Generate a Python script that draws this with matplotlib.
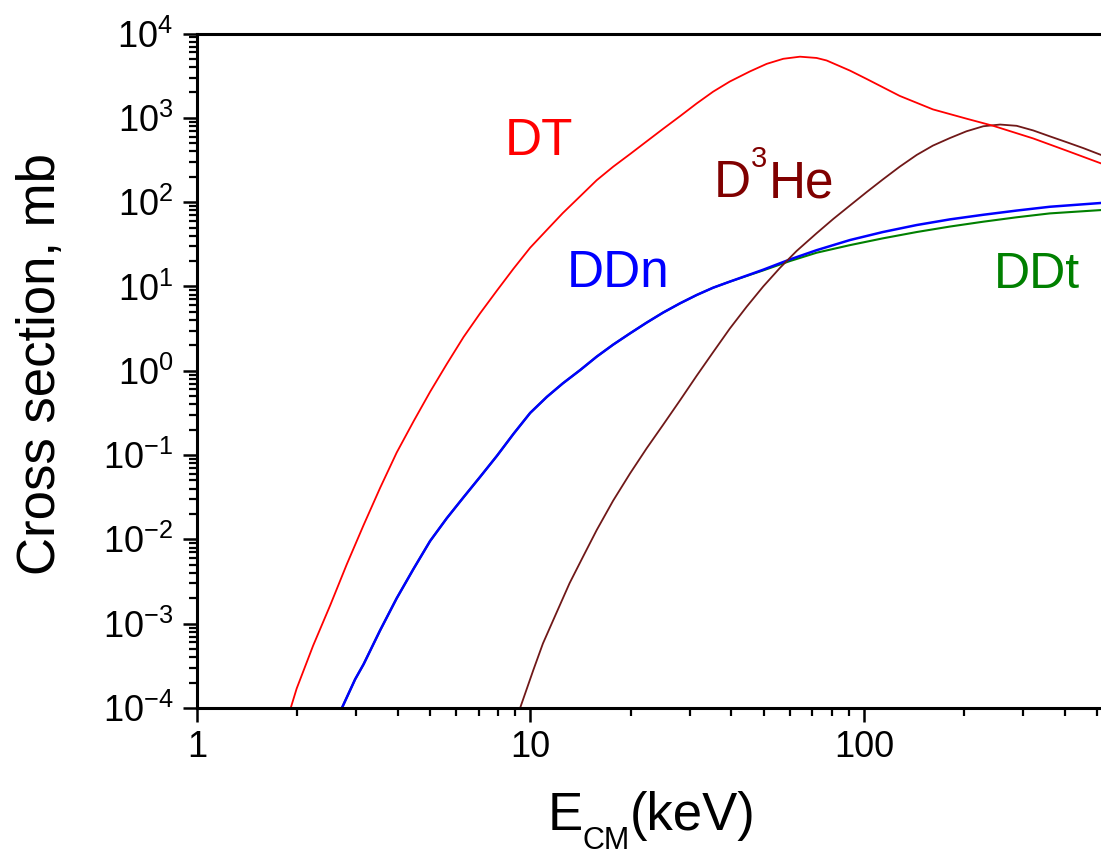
import numpy as np
import matplotlib
matplotlib.use("Agg")
import matplotlib.pyplot as plt
from matplotlib.ticker import FixedLocator, FuncFormatter, LogLocator, NullFormatter

plt.rcParams["font.family"] = ["Liberation Sans", "DejaVu Sans"]
plt.rcParams["mathtext.fontset"] = "custom"
plt.rcParams["mathtext.rm"] = "Liberation Sans"
plt.rcParams["mathtext.it"] = "Liberation Sans:italic"
plt.rcParams["mathtext.bf"] = "Liberation Sans:bold"

# Fusion cross sections vs centre-of-mass energy (keV, mb)
dt_E = [1.91, 1.99, 2.23, 2.51, 2.81, 3.16, 3.54, 3.97, 4.46, 5.00, 5.61,
        6.30, 7.06, 7.93, 8.89, 9.98, 11.2, 12.5, 14.1, 15.8, 17.7, 19.9,
        22.3, 25.0, 28.1, 31.5, 35.3, 39.6, 45.5, 51.1, 57.3, 64.3, 72.1,
        77.3, 90.8, 102, 128, 161, 203, 244, 322, 406, 514]
dt_sigma = [1.0e-4, 1.70e-4, 5.50e-4, 1.66e-3, 5.01e-3, 1.48e-2, 4.07e-2,
            0.107, 0.251, 0.562, 1.20, 2.51, 4.79, 8.91, 16.2, 28.8, 46.8,
            74.1, 117.5, 182, 263, 372, 525, 741, 1047, 1479, 2042, 2692,
            3548, 4365, 5012, 5309, 5129, 4786, 3631, 2884, 1820, 1259, 977,
            804, 569, 407, 288]

d3he_E = [9.31, 10.2, 10.9, 12.0, 13.1, 14.4, 15.8, 17.7, 19.9, 22.3, 25.0,
          28.1, 31.5, 35.3, 39.6, 44.5, 49.9, 56.0, 62.8, 72.1, 80.9, 90.8,
          102, 114, 128, 144, 161, 181, 203, 228, 256, 287, 322, 361, 406,
          455, 514]
d3he_sigma = [1.0e-4, 2.82e-4, 5.83e-4, 1.38e-3, 3.02e-3, 6.31e-3, 1.29e-2,
              2.88e-2, 6.07e-2, 0.120, 0.229, 0.447, 0.871, 1.66, 3.16, 5.75,
              10.0, 16.6, 26.3, 42.7, 63.1, 91.2, 132, 186, 263, 363, 468,
              575, 692, 794, 832, 804, 708, 603, 513, 437, 363]

ddn_E = [2.72, 2.98, 3.16, 3.54, 3.97, 4.46, 5.00, 5.61, 6.30, 7.06, 7.93,
         8.89, 9.98, 11.2, 12.5, 14.1, 15.8, 17.7, 19.9, 22.3, 25.0, 28.1,
         31.5, 35.3, 39.6, 49.9, 60.0, 72.1, 90.8, 114, 144, 181, 228, 287,
         361, 514]
ddn_sigma = [1.0e-4, 2.19e-4, 3.31e-4, 8.32e-4, 2.0e-3, 4.47e-3, 9.55e-3,
             1.78e-2, 3.16e-2, 5.50e-2, 9.77e-2, 0.178, 0.316, 0.490, 0.708,
             1.02, 1.47, 2.04, 2.78, 3.72, 4.90, 6.31, 7.91, 9.66, 11.4, 15.8,
             20.9, 26.9, 35.5, 44.2, 53.5, 62.4, 70.8, 79.4, 88.1, 97.7]

ddt_E = [2.72, 2.98, 3.16, 3.54, 3.97, 4.46, 5.00, 5.61, 6.30, 7.06, 7.93,
         8.89, 9.98, 11.2, 12.5, 14.1, 15.8, 17.7, 19.9, 22.3, 25.0, 28.1,
         31.5, 35.3, 39.6, 49.9, 60.0, 72.1, 90.8, 114, 144, 181, 228, 287,
         361, 514]
ddt_sigma = [1.0e-4, 2.19e-4, 3.31e-4, 8.32e-4, 2.0e-3, 4.47e-3, 9.55e-3,
             1.78e-2, 3.16e-2, 5.50e-2, 9.77e-2, 0.178, 0.316, 0.490, 0.708,
             1.02, 1.47, 2.04, 2.78, 3.72, 4.90, 6.31, 7.91, 9.66, 11.4, 15.5,
             20.0, 25.1, 30.9, 37.2, 44.2, 51.3, 58.6, 66.1, 73.5, 80.5]

x_ticks = [1, 10, 100]
x_labels = ["1", "10", "100"]
y_exponents = [-4, -3, -2, -1, 0, 1, 2, 3, 4]

W, H = 1101, 857
fig = plt.figure(figsize=(W / 100, H / 100), dpi=100)
ax = fig.add_axes([197 / W, 149 / H, (W - 197) / W, (708 - 33.5) / H])

ax.plot(ddt_E, ddt_sigma, color="#008000", lw=1.5)
ax.plot(ddn_E, ddn_sigma, color="#0000FF", lw=1.8)
ax.plot(d3he_E, d3he_sigma, color="#701818", lw=1.3)
ax.plot(dt_E, dt_sigma, color="#FF0000", lw=1.3)

ax.set_xscale("log")
ax.set_yscale("log")
ax.set_xlim(1, 514)
ax.set_ylim(1e-4, 1e4)

ax.xaxis.set_major_locator(FixedLocator(x_ticks))
ax.xaxis.set_major_formatter(FuncFormatter(
    lambda v, p: x_labels[x_ticks.index(int(round(v)))] if int(round(v)) in x_ticks else ""))
ax.xaxis.set_minor_locator(LogLocator(base=10, subs=np.arange(2, 10), numticks=20))
ax.xaxis.set_minor_formatter(NullFormatter())

ax.yaxis.set_major_locator(FixedLocator([10.0 ** e for e in y_exponents]))
ax.yaxis.set_major_formatter(FuncFormatter(
    lambda v, p: r"$\mathregular{10^{%d}}$" % int(round(np.log10(v)))))
ax.yaxis.set_minor_locator(LogLocator(base=10, subs=np.arange(2, 10), numticks=20))
ax.yaxis.set_minor_formatter(NullFormatter())

ax.tick_params(which="major", direction="out", length=10, width=1.8,
               labelsize=26, pad=7)
ax.tick_params(which="minor", direction="out", length=5.5, width=1.6)
ax.tick_params(axis="x", which="major", pad=6)

for side in ("left", "bottom", "top"):
    ax.spines[side].set_linewidth(2.2)
ax.spines["right"].set_visible(False)


def ftext(x, y, s, **kw):
    fig.text(x / W, 1 - y / H, s, transform=fig.transFigure, **kw)


# axis titles
ftext(41, 364, "Cross section, mb", rotation=90, ha="center", va="center", size=38)
ftext(548, 830, "E", ha="left", va="baseline", size=38)
ftext(582, 849, "CM", ha="left", va="baseline", size=22)
ftext(630, 830, "(keV)", ha="left", va="baseline", size=38)

# curve labels
ftext(505, 155, "DT", ha="left", va="baseline", size=37, color="#FF0000")
ftext(567, 287, "DDn", ha="left", va="baseline", size=37, color="#0000FF")
ftext(714, 197, "D", ha="left", va="baseline", size=37, color="#800000")
ftext(751, 167, "3", ha="left", va="baseline", size=21, color="#800000")
ftext(769, 197, "He", ha="left", va="baseline", size=37, color="#800000")
ftext(994, 288, "DDt", ha="left", va="baseline", size=36, color="#008000")

fig.savefig("out.png", dpi=100)
